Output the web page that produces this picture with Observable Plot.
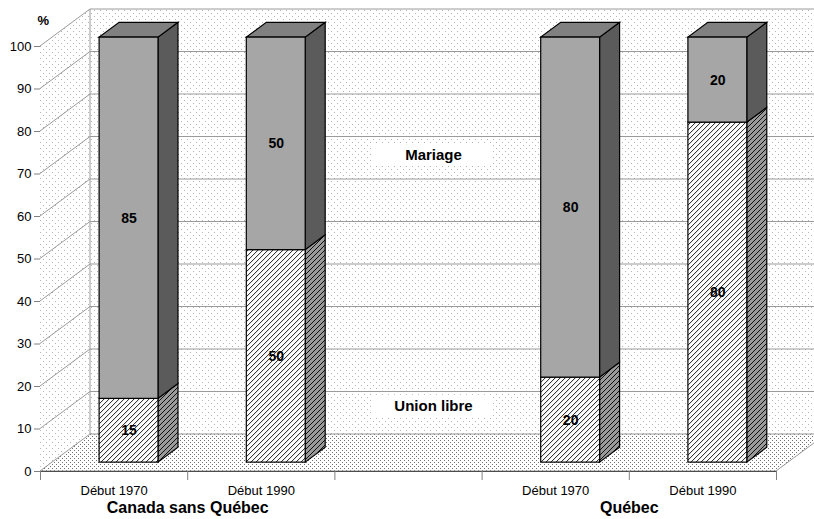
<!DOCTYPE html>
<html><head><meta charset="utf-8">
<script src="https://cdn.jsdelivr.net/npm/d3@7"></script>
<script src="https://cdn.jsdelivr.net/npm/@observablehq/plot@0.6"></script>
<style>
body{margin:0;background:#fff}
#chart{position:absolute;left:0;top:0}
g[aria-label^="y-axis"], g[aria-label^="x-axis"]{color:#808080}
g[aria-label^="y-axis"] text, g[aria-label^="x-axis"] text{fill:#000}
</style></head><body><div id="chart"></div>
<script>
// ---- data ----
const categories = ["Début 1970", "Début 1990", "", "Début 1970", "Début 1990"];
const groups = ["Canada sans Québec", "Québec"];
const groupAt = [1, 4];
const barCategory = [0, 1, 3, 4];
const unionLibre = [15, 50, 20, 80];
const mariage = [85, 50, 80, 20];
const seriesNames = ["Union libre", "Mariage"];
const seriesLabelValue = [11, 70];
const yTicks = [0, 10, 20, 30, 40, 50, 60, 70, 80, 90, 100];
const xTicks = [0, 1, 2, 3, 4, 5];

// ---- presentation ----
const DX = 50, DY = -37;          // full depth of the 3D box (px)
const F0 = 0.24, F1 = 0.64;       // bar front / back depth fraction
const BAR_LO = 0.32, BAR_HI = 0.72;
const NS = "http://www.w3.org/2000/svg";

const segments = [];
barCategory.forEach((c, i) => {
  segments.push({c, series: "Union libre", y1: 0, y2: unionLibre[i], value: unionLibre[i], top: false});
  segments.push({c, series: "Mariage", y1: unionLibre[i], y2: unionLibre[i] + mariage[i], value: mariage[i], top: true});
});

function el(name, attrs, parent) {
  const e = document.createElementNS(NS, name);
  for (const k in attrs) e.setAttribute(k, attrs[k]);
  if (parent) parent.appendChild(e);
  return e;
}
function poly(parent, pts, fill, stroke, sw) {
  return el("polygon", {points: pts.map(p => p.join(",")).join(" "), fill, stroke: stroke || "none", "stroke-width": sw || 1, "stroke-linejoin": "miter"}, parent);
}

function defsMark() {
  const defs = el("defs", {});
  const p1 = el("pattern", {id: "wallDots", width: 6, height: 6, patternUnits: "userSpaceOnUse"}, defs);
  el("rect", {width: 6, height: 6, fill: "#fff"}, p1);
  el("rect", {x: 1, y: 1, width: 1, height: 1, fill: "#b4b4b4"}, p1);
  el("rect", {x: 4, y: 4, width: 1, height: 1, fill: "#b4b4b4"}, p1);
  const p2 = el("pattern", {id: "floorDots", width: 4, height: 4, patternUnits: "userSpaceOnUse"}, defs);
  el("rect", {width: 4, height: 4, fill: "#fff"}, p2);
  el("rect", {x: 0, y: 0, width: 1, height: 1, fill: "#707070"}, p2);
  el("rect", {x: 2, y: 2, width: 1, height: 1, fill: "#707070"}, p2);
  const mk = (id, bg) => {
    const p = el("pattern", {id, width: 5, height: 5, patternUnits: "userSpaceOnUse"}, defs);
    el("rect", {width: 5, height: 5, fill: bg}, p);
    el("path", {d: "M0,5L5,0M-1,1L1,-1M4,6L6,4", stroke: "#000", "stroke-width": 0.9}, p);
  };
  mk("hatch", "#fff");
  mk("hatchSide", "#9a9a9a");
  return defs;
}

function wallsMark(index, scales) {
  const x = scales.x, y = scales.y;
  const x0 = x(0), x1 = x(5), yb = y(0), yt = y(100);
  const g = el("g", {});
  poly(g, [[x0, yb], [x0, yt], [x0 + DX, yt + DY], [x0 + DX, yb + DY]], "url(#wallDots)");
  poly(g, [[x0 + DX, yb + DY], [x0 + DX, yt + DY], [x1 + DX, yt + DY], [x1 + DX, yb + DY]], "url(#wallDots)");
  poly(g, [[x0, yb], [x1, yb], [x1 + DX, yb + DY], [x0 + DX, yb + DY]], "url(#floorDots)");
  for (const t of yTicks) {
    const yy = y(t);
    el("polyline", {points: `${x0},${yy} ${x0 + DX},${yy + DY} ${x1 + DX},${yy + DY}`, fill: "none", stroke: "#9a9a9a", "stroke-width": 1}, g);
  }
  el("line", {x1: x0 + DX, y1: yt + DY, x2: x0 + DX, y2: yb + DY, stroke: "#9a9a9a"}, g);
  el("line", {x1: x1, y1: yb, x2: x1 + DX, y2: yb + DY, stroke: "#9a9a9a"}, g);
  el("line", {x1: x0, y1: yb, x2: x1, y2: yb, stroke: "#9a9a9a"}, g);
  return g;
}

function barSidesMark(index, scales) {
  const x = scales.x, y = scales.y;
  const g = el("g", {});
  const w = F1 - F0;
  for (const s of segments) {
    const xl = x(s.c + BAR_LO) + F0 * DX, xr = x(s.c + BAR_HI) + F0 * DX;
    const yT = y(s.y2) + F0 * DY, yB = y(s.y1) + F0 * DY;
    const sideFill = s.series === "Mariage" ? "#5b5b5b" : "url(#hatchSide)";
    poly(g, [[xr, yB], [xr, yT], [xr + w * DX, yT + w * DY], [xr + w * DX, yB + w * DY]], sideFill, "#000", 1.2);
    if (s.top) {
      poly(g, [[xl, yT], [xr, yT], [xr + w * DX, yT + w * DY], [xl + w * DX, yT + w * DY]], "#808080", "#000", 1.2);
    }
  }
  return g;
}

function labelBoxesMark(index, scales) {
  const x = scales.x, y = scales.y;
  const g = el("g", {});
  seriesLabelValue.forEach(v => {
    const cx = x(2.5) + 0.5 * DX, cy = y(v) + 0.5 * DY;
    el("rect", {x: cx - 60, y: cy - 11, width: 120, height: 22, fill: "#fff"}, g);
  });
  return g;
}

const plot = Plot.plot({
  width: 814,
  height: 519,
  marginLeft: 40,
  marginRight: 38,
  marginTop: 46,
  marginBottom: 48,
  style: {fontFamily: "'Liberation Sans', Arial, sans-serif", fontSize: "13px", color: "#000", background: "transparent", overflow: "visible"},
  x: {domain: [0, 5], ticks: xTicks, tickFormat: () => "", tickSize: 9, line: true, label: null},
  y: {domain: [0, 100], ticks: yTicks, tickSize: 6, line: true, label: null},
  marks: [
    defsMark,
    wallsMark,
    barSidesMark,
    Plot.rect(segments.filter(d => d.series === "Union libre"), {x1: d => d.c + BAR_LO, x2: d => d.c + BAR_HI, y1: "y1", y2: "y2", dx: F0 * DX, dy: F0 * DY, fill: "url(#hatch)", stroke: "#000", strokeWidth: 1.2}),
    Plot.rect(segments.filter(d => d.series === "Mariage"), {x1: d => d.c + BAR_LO, x2: d => d.c + BAR_HI, y1: "y1", y2: "y2", dx: F0 * DX, dy: F0 * DY, fill: "#a6a6a6", stroke: "#000", strokeWidth: 1.2}),
    Plot.text(segments, {x: d => d.c + (BAR_LO + BAR_HI) / 2, y: d => (d.y1 + d.y2) / 2, text: d => String(d.value), dx: F0 * DX, dy: F0 * DY, fontWeight: "bold", fontSize: 14, fill: "#000"}),
    labelBoxesMark,
    Plot.text(seriesNames, {x: () => 2.5, y: (d, i) => seriesLabelValue[i], text: d => d, dx: 0.5 * DX, dy: 0.5 * DY, fontWeight: "bold", fontSize: 15, fill: "#000"}),
    Plot.text(categories, {x: (d, i) => i + 0.5, text: d => d, frameAnchor: "bottom", dy: 23, fontSize: 13, fill: "#000"}),
    Plot.text(groups, {x: (d, i) => groupAt[i], text: d => d, frameAnchor: "bottom", dy: 41, fontSize: 16, fontWeight: "bold", fill: "#000"}),
    Plot.text(["%"], {frameAnchor: "top-left", text: d => d, dx: -3, dy: -31, fontSize: 13, fontWeight: "bold", fill: "#000"})
  ]
});
document.getElementById("chart").appendChild(plot);
// keep axes above the walls
plot.querySelectorAll('g[aria-label^="x-axis"], g[aria-label^="y-axis"]').forEach(g => plot.appendChild(g));
</script></body></html>
